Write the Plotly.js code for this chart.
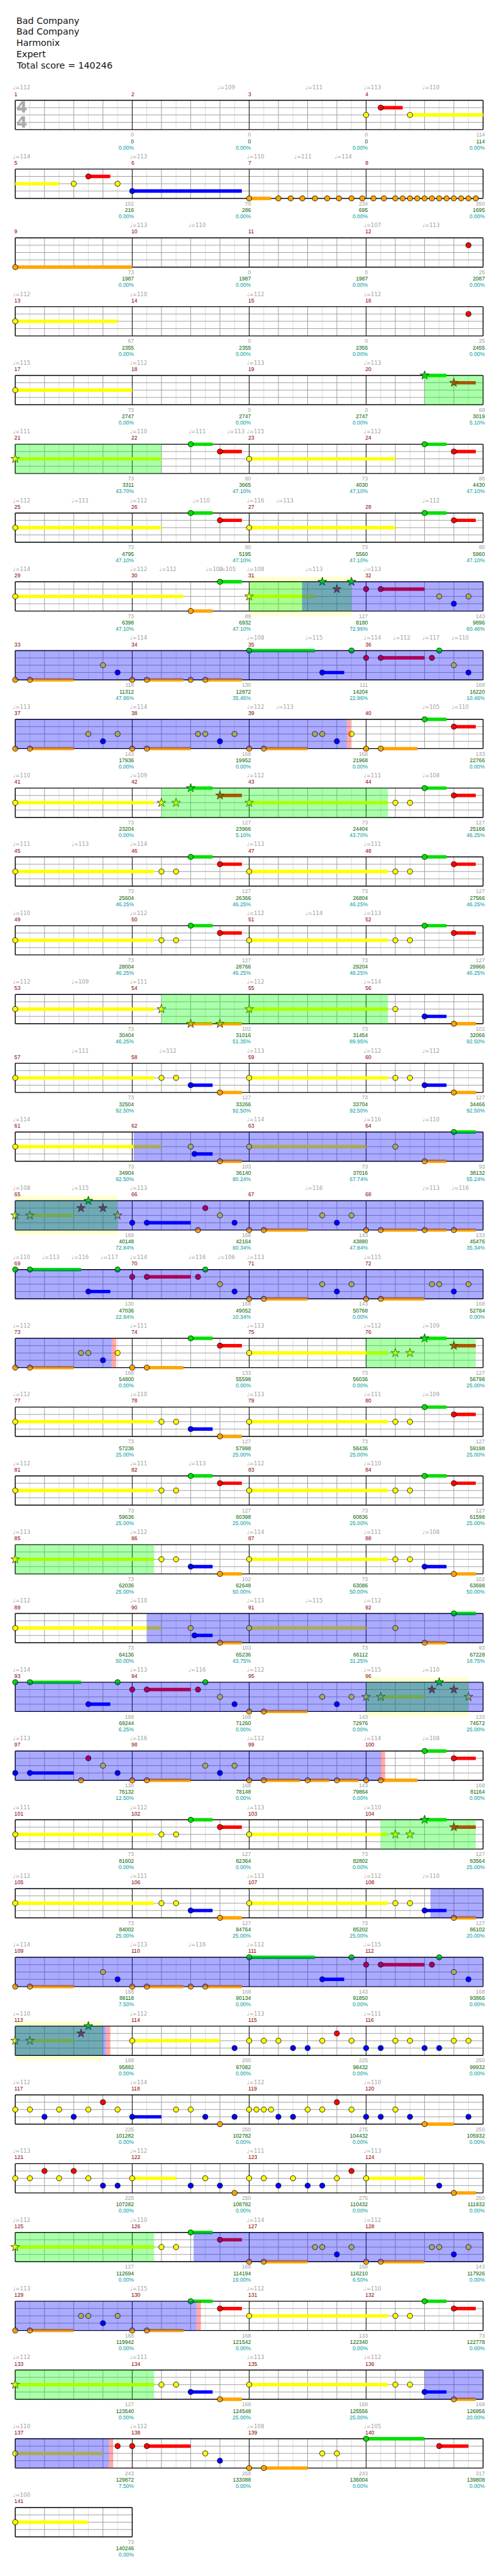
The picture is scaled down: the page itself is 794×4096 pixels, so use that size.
<!DOCTYPE html>
<html><head><meta charset="utf-8">
<script src="https://cdn.plot.ly/plotly-3.0.1.min.js"></script>
<style>html,body{margin:0;padding:0;background:#fff}#chart{width:794px;height:4096px}</style>
</head><body><div id="chart"></div>
<script>
// ---------------- DATA ----------------
const titleLines = ["Bad Company","Bad Company","Harmonix","Expert","Total score = 140246"];
const totalMeasures = 141;
const measuresPerRow = 4;
const beatsPerMeasure = 4;

// per-measure labels under the staff (measure 1..141)
const measureCounts = [0,0,0,114, 102,70,234,350, 73,0,0,25, 67,0,0,25, 73,0,0,68, 73,80,73,80,
  73,80,73,80, 73,89,127,143, 118,130,111,168, 143,168,168,133, 73,127,73,127, 73,127,73,127,
  73,127,73,127, 73,102,73,102, 73,127,73,127, 73,103,73,93, 168,168,143,133, 130,168,143,168,
  168,133,73,127, 73,127,73,127, 73,127,73,127, 73,102,73,102, 73,103,73,93, 168,168,143,133,
  130,168,143,168, 73,127,73,127, 73,127,73,127, 168,168,143,168, 168,200,225,250, 225,250,275,250,
  225,250,275,250, 127,168,168,143, 168,168,133,73, 127,168,168,168, 243,268,243,317, 73];
const measureScores = [0,0,0,114, 216,286,695,1695, 1987,1987,1987,2087, 2355,2355,2355,2455,
  2747,2747,2747,3019, 3311,3665,4030,4430, 4795,5195,5560,5960, 6398,6932,8180,9896,
  11312,12872,14204,16220, 17936,19952,21968,22766, 23204,23966,24404,25166, 25604,26366,26804,27566,
  28004,28766,29204,29966, 30404,31016,31454,32066, 32504,33266,33704,34466, 34904,36140,37016,38132,
  40148,42164,43880,45476, 47036,49052,50768,52784,
  54800,55598,56036,56798, 57236,57998,58436,59198, 59636,60398,60836,61598, 62036,62648,63086,63698,
  64136,65236,66112,67228, 69244,71260,72976,74572, 76132,78148,79864,81164, 81602,82364,82802,83564,
  84002,84764,85202,86102, 88118,90134,91850,93866, 95882,97082,98432,99932, 101282,102782,104432,105932,
  107282,108782,110432,111932, 112694,114194,116210,117926, 119942,121542,122340,122778,
  123540,124548,125556,126956, 129872,133088,136004,139808, 140246];
const measurePercents = ["0.00","0.00","0.00","0.00","0.00","0.00","0.00","0.00","0.00","0.00","0.00","0.00",
  "0.00","0.00","0.00","0.00","0.00","0.00","0.00","5.10","43.70","47.10","47.10","47.10",
  "47.10","47.10","47.10","47.10","47.10","47.10","72.96","60.46","47.96","35.46","22.96","10.46",
  "0.00","0.00","0.00","0.00","0.00","5.10","43.70","46.25","46.25","46.25","46.25","46.25",
  "46.25","46.25","46.25","46.25","46.25","51.35","89.95","92.50","92.50","92.50","92.50","92.50",
  "92.50","80.24","67.74","55.24","72.84","60.34","47.84","35.34","22.84","10.34","0.00","0.00",
  "0.00","0.00","0.00","25.00","25.00","25.00","25.00","25.00","25.00","25.00","25.00","25.00",
  "25.00","50.00","50.00","50.00","50.00","43.75","31.25","18.75","6.25","0.00","0.00","25.00",
  "12.50","0.00","0.00","0.00","0.00","0.00","0.00","25.00","25.00","25.00","25.00","20.00",
  "7.50","0.00","0.00","0.00","0.00","0.00","0.00","0.00","0.00","0.00","0.00","0.00",
  "0.00","0.00","0.00","0.00","0.00","19.00","6.50","0.00","0.00","0.00","0.00","0.00",
  "0.00","25.00","25.00","20.00","7.50","0.00","0.00","0.00","0.00"];

// tempo marks [measure, beat, bpm]
const tempoMarks = [[1,0,112],[2,3,109],[3,2,111],[4,0,113],[4,2,110],
  [5,0,114],[6,0,113],[7,0,110],[7,1.62,111],[7,3,114],
  [10,0,113],[10,2,110],[12,0,107],[12,2,113],
  [13,0,112],[14,0,110],[15,0,112],[16,0,112],
  [17,0,115],[18,0,112],[19,0,113],[20,0,113],
  [21,0,111],[22,0,110],[22,2,111],[22,3.33,113],[23,0,115],[24,0,112],
  [25,0,112],[25,2,111],[26,0,112],[26,2.14,110],[27,0,116],[27,1,113],[28,2,112],
  [29,0,114],[30,0,112],[30,1,112],[30,2.59,109],[30,3.03,105],[31,0,108],[31,2,113],[32,0,113],
  [34,0,114],[35,0,108],[35,2,115],[36,0,114],[36,1,112],[36,2,117],[36,3,110],
  [37,0,113],[38,0,114],[39,0,112],[39,1,113],[40,2,105],[40,3,110],
  [41,0,110],[42,0,109],[43,0,112],[44,0,111],[44,2,108],
  [45,0,111],[45,2,113],[46,0,114],[47,0,113],[48,0,111],
  [49,0,110],[50,0,112],[51,0,112],[51,2,114],[52,0,113],
  [53,0,112],[53,2,109],[54,0,111],[55,0,112],[56,0,114],
  [57,2,111],[58,1,112],[59,0,113],[60,0,112],[60,2,112],
  [61,0,114],[63,0,114],[64,0,116],[64,2,110],
  [65,0,108],[65,2,115],[66,0,113],[67,2,116],[68,2,113],[68,3,116],
  [69,0,110],[69,1,113],[69,2,116],[69,3,117],[70,0,114],[70,2,116],[70,3,106],[71,0,113],[72,0,115],
  [73,0,112],[74,0,111],[75,0,113],[76,0,112],[76,2,109],
  [77,0,112],[78,0,110],[79,0,113],[80,0,111],[80,2,109],
  [81,0,112],[82,0,111],[82,2,113],[83,0,112],[84,0,110],
  [85,0,113],[86,0,112],[87,0,114],[88,0,111],[88,2,108],
  [89,0,112],[90,0,110],[91,0,113],[91,2,115],[92,0,112],
  [93,0,114],[94,0,113],[94,2,116],[95,0,112],[96,0,115],[96,2,110],
  [97,0,113],[98,0,116],[99,0,112],[100,0,114],[100,2,108],
  [101,0,111],[102,0,112],[103,0,113],[104,0,110],
  [105,0,112],[106,0,111],[107,0,113],[108,0,112],[108,2,110],
  [109,0,114],[110,0,113],[110,2,116],[111,0,112],[112,0,115],
  [113,0,110],[114,0,112],[115,0,113],[116,0,111],
  [117,0,112],[118,0,114],[119,0,112],[120,0,110],
  [121,0,113],[122,0,112],[123,0,111],[124,0,113],
  [125,0,112],[126,0,110],[127,0,114],[128,0,112],
  [129,0,113],[130,0,115],[131,0,112],[132,0,110],
  [133,0,112],[134,0,111],[135,0,113],[136,0,112],
  [137,0,110],[138,0,112],[139,0,108],[140,0,105],[141,0,100]];

// notes [measure, beat, sustain length in beats (default 0), star 1/0 (default 0)]
const greenNotes = [[20,2,0.75,1],[22,2,0.75],[24,2,0.75],[26,2,0.75],[28,2,0.75],
  [30,3,0.75],[31,2.5,0,1],[31,3.5,0,1],[35,0,2.25],[35,3.5],[36,2.5],
  [40,2,0.75],[42,2,0.75,1],[44,2,0.75],[46,2,0.75],[48,2,0.75],[50,2,0.75],[52,2,0.75],
  [64,3,0.75],[65,2.5,0,1],[69,0],[69,0.5,1.75],[69,3.5],[70,2.5],
  [74,2,0.75],[76,2,0.75,1],[80,2,0.75],[82,2,0.75],[84,2,0.75],[92,3,0.75],
  [93,0],[93,0.5,1.75],[93,3.5],[94,2.5],[96,2.5,0,1],[100,2,0.75],[102,2,0.75],[104,2,0.75,1],
  [111,0,2.25],[111,3.5],[112,2.5],[113,2.5,0,1],[126,2,0.75],[130,2,0.75],[132,2,0.75],[140,0,2]];
const redNotes = [[4,0.5,0.75],[5,2.5,0.75],[12,3.5],[16,3.5],[20,3,0.75,1],
  [22,3,0.75],[24,3,0.75],[26,3,0.75],[28,3,0.75],
  [31,3,0,1],[32,0],[32,0.5,1.5],[36,0],[36,0.5,1.5],[36,2.25],
  [40,3,0.75],[42,3,0.75,1],[44,3,0.75],[46,3,0.75],[48,3,0.75],[50,3,0.75],[52,3,0.75],
  [65,2.25,0,1],[65,3,0,1],[66,2.5],[70,0],[70,0.5,1.5],[70,2.25],
  [74,3,0.75],[76,3,0.75,1],[80,3,0.75],[82,3,0.75],[84,3,0.75],[94,0],[94,0.5,1.5],[94,2.25],
  [96,2.25,0,1],[96,3,0,1],[97,2.5],[100,3,0.75],[102,3,0.75],[104,3,0.75,1],
  [112,0],[112,0.5,1.5],[112,2.25],[113,2.25,0,1],[115,3],[117,3],[119,3],[121,1],[121,2],[123,3.5],
  [126,3,0.75],[130,3,0.75],[132,3,0.75],[137,3.5],[138,0],[138,0.5,1.5],[140,2.5,1]];
const yellowNotes = [[4,0],[4,1.5,4],[5,2],[5,3.5],[13,0,3.5],[17,0,4],
  [21,0,5,1],[23,0,5],[25,0,5],[27,0,5],[29,0,5.75],[31,0,2.25,1],[32,2.5],[32,3.5],
  [33,3],[36,3],[37,2.5],[37,3.5],[38,2.25],[38,2.5],[38,3.5],[39,2.25],[39,2.5],[39,3.5],
  [41,0,4.75],[42,1,0,1],[42,1.5,0,1],[43,0,4.75,1],[44,1],[44,1.5],
  [45,0,4.75],[46,1],[46,1.5],[47,0,4.75],[48,1],[48,1.5],
  [49,0,4.75],[50,1],[50,1.5],[51,0,4.75],[52,1],[52,1.5],
  [53,0,4.75],[54,1,0,1],[55,0,4.75,1],[56,1],
  [57,0,4.75],[58,1],[58,1.5],[59,0,4.75],[60,1],[60,1.5],
  [61,0,5],[62,2],[63,0,4],[64,1],
  [65,0,0,1],[65,0.5,1.5,1],[65,3.5,0,1],[66,3],[67,2.5],[67,3.5],
  [70,3],[71,2.5],[71,3.5],[72,2.25],[72,2.5],[72,3.5],
  [73,2.25],[73,2.5],[73,3.5],[75,0,4.75],[76,1,0,1],[76,1.5,0,1],
  [77,0,4.75],[78,1],[78,1.5],[79,0,4.75],[80,1],[80,1.5],
  [81,0,4.75],[82,1],[82,1.5],[83,0,4.75],[84,1],[84,1.5],
  [85,0,4.75,1],[86,1],[86,1.5],[87,0,4.75],[88,1],[88,1.5],
  [89,0,5],[90,2],[91,0,4],[92,1],
  [94,3],[95,2.5],[95,3.5],[96,0,0,1],[96,0.5,1.5,1],[96,3.5,0,1],[97,3],[98,2.5],[98,3.5],
  [101,0,4.75],[102,1],[102,1.5],[103,0,4.75],[104,1,0,1],[104,1.5,0,1],
  [105,0,4.75],[106,1],[106,1.5],[107,0,4.75],[108,1],[108,1.5],[109,3],[112,3],
  [113,0,0,1],[113,0.5,1.5,1],[114,0,3],[115,0],[115,0.5],[115,1],[115,2.5],[115,3.5],
  [116,1],[116,1.5],[116,3],[116,3.5],[117,0],[117,0.5],[117,1.5],[117,2.5],[117,3.5],[118,1.5],[118,2],
  [119,0],[119,0.25],[119,0.5],[119,0.75],[119,2],[119,2.5],[119,3.5],[120,1],
  [121,0],[121,0.5],[121,1.5],[121,2.5],[122,0,1.5],[122,2.5],[123,0],[123,0.5],[123,1.5],[123,3],[124,0,2],
  [125,0,4.75,1],[126,1],[126,1.5],[127,2.25],[127,2.5],[127,3.5],[128,2.25],[128,2.5],[128,3.5],
  [129,2.25],[129,2.5],[129,3.5],[131,0,4.75],[132,1],[132,1.5],
  [133,0,4.75,1],[134,1],[134,1.5],[135,0,4.75],[136,1],[136,1.5],
  [137,0,3],[138,2.5],[139,2.5],[139,3],[141,0,2.5]];
const blueNotes = [[6,0,3.75],[32,3],[33,3.5],[35,2.5,0.75],[36,3.5],
  [37,3],[38,3],[39,3],[56,2,0.75],[58,2,0.75],[60,2,0.75],[62,2.13,0.62],
  [66,0],[66,0.5,1.5],[66,3.5],[67,3],[69,2.5,0.75],[70,3.5],[71,3],[72,3],
  [73,3],[78,2,0.75],[86,2,0.75],[88,2,0.75],[90,2.13,0.62],[93,2.5,0.75],[94,3.5],[95,3],
  [97,0],[97,0.5,1.5],[97,3.5],[98,3],[106,2,0.75],[108,2,0.75],[109,3.5],[111,2.5,0.75],[112,3.5],
  [114,3.5],[115,1.5],[115,2],[116,0],[116,0.5],[116,2],[116,2.5],[117,1],[117,2],[118,0,1],[118,2.5],[118,3.5],
  [119,1],[119,1.5],[120,0],[120,0.5],[120,1.5],[120,3.5],[121,3],[121,3.5],[122,2],[122,3],
  [123,1],[123,2],[123,2.5],[124,2.5],[127,3],[128,3],[129,3],[134,2,0.75],[136,2,0.75],[138,3]];
const orangeNotes = [[7,0,0.75],[7,1],[7,1.42],[7,1.82],[7,2.25],[7,2.67],[7,3.07],[7,3.5],[7,3.87],
  [8,0.25],[8,0.61],[8,1],[8,1.25],[8,1.5],[8,1.75],[8,2],[8,2.25],
  [8,2.5],[8,2.75],[8,3],[8,3.25],[8,3.5],[8,3.75],
  [9,0,4],[30,2,0.75],
  [33,0],[33,0.5,1.5],[34,0],[34,0.5,1.25],[34,2],[34,2.5,1.25],
  [37,0],[37,0.5,1.5],[38,0],[38,0.5,1.5],[39,0],[39,0.5,1.5],[40,0],[40,0.5,1.25],
  [54,2,0.75,1],[54,3,0.75,1],[56,3,0.75],[58,3,0.75],[60,3,0.75],[62,3,0.75],[64,2,0.75],
  [66,2.25],[67,0],[67,0.5,1.5],[68,0],[68,0.5,1.25],[68,2,0.75],[68,3,0.75],
  [71,0],[71,0.5,1.5],[72,0],[72,0.5,1.5],
  [73,0],[73,0.5,1.5],[74,0],[74,0.5,1.25],[78,3,0.75],[86,3,0.75],[88,3,0.75],[90,3,0.75],[92,2,0.75],
  [95,0],[95,0.5,1.5],[97,2.25],[98,0],[98,0.5,1.5],[99,0],[99,0.5,1.25],[99,2,0.75],[99,3,0.75],
  [100,0],[100,0.5,1.25],[106,3,0.75],[108,3,0.75],[109,0],[109,0.5,1.5],[110,0],[110,0.5,1.25],
  [110,2],[110,2.5,1.25],[118,3],[120,2,1],[122,3.5],[124,3,0.75],
  [127,0],[127,0.5,1.5],[128,0],[128,0.5,1.5],[129,0],[129,0.5,1.5],[130,0],[130,0.5,1.25],
  [134,3,0.75],[136,3,0.75],[139,0],[139,0.5,1.5]];

// spans [startMeasure, startBeat, endMeasure, endBeat]
const phraseSpans = [[20,2,22,1],[31,0,31,3.5],[42,1,44,0.75],[54,1,56,0.75],[65,0,65,3.5],
  [76,0,76,3.75],[85,0,86,0.75],[96,0,96,3.5],[104,0.5,104,3.75],[113,0,113,3],[125,0,126,0.75],[133,0,134,0.75]];
const activationSpans = [[31,1.81,39,3.34],[62,0.05,73,3.3],[90,0.5,100,0.5],[108,2.2,113,3.1],
  [126,2.1,130,2.2],[136,2,137,3.2]];
const bandSpans = [[31,0,31,3.5],[65,0,65,3.5],[96,0,96,3.5],[113,0,113,3]];
const endSpans = [[39,3.34,39,3.49],[73,3.3,73,3.45],[100,0.5,100,0.65],[113,3.1,113,3.25],
  [130,2.2,130,2.35],[137,3.2,137,3.35]];

// ---------------- DRAWING ----------------
const RS = 141/15;            // row step in lane units
const BPR = measuresPerRow*beatsPerMeasure;
const nRows = Math.ceil(totalMeasures/measuresPerRow);
const toG = (m,b) => (m-1)*beatsPerMeasure + b;

function splitSpan(g0, g1, cb){
  let r = Math.floor(g0/BPR);
  while (r*BPR < g1 - 1e-9){
    const a = Math.max(g0, r*BPR), e = Math.min(g1, (r+1)*BPR);
    if (e > a) cb(r, a - r*BPR, e - r*BPR);
    r++;
  }
}

const traces = [];
function lineTrace(segs, color, width){
  const x=[], y=[];
  segs.forEach(s=>{x.push(s[0],s[2],null); y.push(s[1],s[3],null);});
  traces.push({type:'scatter',mode:'lines',x,y,line:{color,width},hoverinfo:'skip'});
}
const half=[], beat=[], lane=[], meas=[], border=[];
for (let r=0;r<nRows;r++){
  const nm = Math.min(measuresPerRow, totalMeasures - r*measuresPerRow);
  const W = nm*beatsPerMeasure, top=r*RS, bot=r*RS+4;
  for (let h=0.5; h<W; h+=1) half.push([h,top,h,bot]);
  for (let b=1; b<W; b++) { if (b%4) beat.push([b,top,b,bot]); else meas.push([b,top,b,bot]); }
  for (let k=1;k<=3;k++) lane.push([0,top+k,W,top+k]);
  border.push([0,top,W,top],[W,top,W,bot],[W,bot,0,bot],[0,bot,0,top]);
}
lineTrace(half,'#dddddd',1);
lineTrace(beat,'#a0a0a0',1);
lineTrace(lane,'#a0a0a0',1);
lineTrace(meas,'#000000',1);
lineTrace(border,'#000000',1.4);

const laneDefs = [
  {notes:greenNotes,  color:'#00e000', k:0},
  {notes:redNotes,    color:'#ff0000', k:1},
  {notes:yellowNotes, color:'#ffff00', k:2},
  {notes:blueNotes,   color:'#0000ff', k:3},
  {notes:orangeNotes, color:'#ffa500', k:4}];
laneDefs.forEach(L=>{
  const segs=[];
  L.notes.forEach(n=>{ const len=n[2]||0; if(len>0){ const g=toG(n[0],n[1]);
    splitSpan(g, g+len, (r,a,e)=>segs.push([a,r*RS+L.k,e,r*RS+L.k])); }});
  lineTrace(segs, L.color, 5.4);
});
laneDefs.forEach(L=>{
  [0,1].forEach(star=>{
    const x=[],y=[];
    L.notes.filter(n=>(n[3]||0)===star).forEach(n=>{
      const g=toG(n[0],n[1]); const r=Math.floor(g/BPR);
      x.push(g-r*BPR); y.push(r*RS+L.k);});
    traces.push({type:'scatter',mode:'markers',x,y,hoverinfo:'skip',
      marker:{symbol: star?'star':'circle', size: star?10.5:8.2, color:L.color,
              line:{color:'#000',width:star?0.7:0.8}}});
  });
});

function textTrace(x,y,text,pos,color,size,family){
  traces.push({type:'scatter',mode:'text',x,y,text,textposition:pos,hoverinfo:'skip',
    textfont:{color,size,family:family||'Liberation Sans, Arial, sans-serif'}, cliponaxis:false});
}
const mnX=[],mnY=[],mnT=[], cX=[],cY=[],cT=[], sY=[],sT=[], pY=[],pT=[];
for (let m=1;m<=totalMeasures;m++){
  const g=toG(m,0), r=Math.floor(g/BPR), x0=g-r*BPR;
  mnX.push(x0-0.03); mnY.push(r*RS-0.78); mnT.push(String(m));
  const i=m-1;
  cX.push(x0+4+0.06); cY.push(r*RS+4.78); cT.push(i<measureCounts.length?String(measureCounts[i]):'');
  sY.push(r*RS+5.67); sT.push(i<measureScores.length?String(measureScores[i]):'');
  pY.push(r*RS+6.53); pT.push(i<measurePercents.length?measurePercents[i]+'%':'');
}
textTrace(mnX,mnY,mnT,'middle right','#8b0000',8.6);
textTrace(cX,cY,cT,'middle left','#a0a0a0',8.6);
textTrace(cX,sY,sT,'middle left','#006400',8.6);
textTrace(cX,pY,pT,'middle left','#009c9c',8.6);
const tX=[],tY=[],tT=[];
tempoMarks.forEach(t=>{ const g=toG(t[0],t[1]), r=Math.floor(g/BPR);
  tX.push(g-r*BPR-0.08); tY.push(r*RS-1.65); tT.push('\u2669='+t[2]); });
textTrace(tX,tY,tT,'middle right','#a0a0a0',8.6,'DejaVu Sans, sans-serif');

const shapes=[];
bandSpans.forEach(s=>splitSpan(toG(s[0],s[1]),toG(s[2],s[3]),(r,a,e)=>shapes.push(
  {type:'rect',xref:'x',yref:'y',x0:a,x1:e,y0:r*RS-0.7,y1:r*RS+4.7,fillcolor:'#ffffd2',line:{width:0},layer:'below'})));
phraseSpans.forEach(s=>splitSpan(toG(s[0],s[1]),toG(s[2],s[3]),(r,a,e)=>shapes.push(
  {type:'rect',xref:'x',yref:'y',x0:a,x1:e,y0:r*RS,y1:r*RS+4,fillcolor:'rgba(0,255,0,0.333)',line:{width:0},layer:'above'})));
activationSpans.forEach(s=>splitSpan(toG(s[0],s[1]),toG(s[2],s[3]),(r,a,e)=>shapes.push(
  {type:'rect',xref:'x',yref:'y',x0:a,x1:e,y0:r*RS,y1:r*RS+4,fillcolor:'rgba(0,0,255,0.333)',line:{width:0},layer:'above'})));
endSpans.forEach(s=>splitSpan(toG(s[0],s[1]),toG(s[2],s[3]),(r,a,e)=>shapes.push(
  {type:'rect',xref:'x',yref:'y',x0:a,x1:e,y0:r*RS,y1:r*RS+4,fillcolor:'rgba(255,0,0,0.333)',line:{width:0},layer:'above'})));

const annotations = titleLines.map((t,i)=>({xref:'paper',yref:'paper',x:31/1024,y:1-(42+23*i)/5281,
  xanchor:'left',yanchor:'middle',showarrow:false,text:t,font:{family:'DejaVu Sans, sans-serif',size:14.3,color:'#111'}}));
['4','4'].forEach((t,i)=>annotations.push({xref:'x',yref:'y',x:0.23,y:0.98+2*i,xanchor:'center',yanchor:'middle',
  showarrow:false,text:'<b>'+t+'</b>',font:{family:'DejaVu Sans, sans-serif',size:25,color:'#aaaaaa'}}));

const layout = {width:794,height:4096,margin:{l:0,r:0,t:0,b:0,pad:0},
  paper_bgcolor:'#fff',plot_bgcolor:'#fff',showlegend:false,hovermode:false,
  xaxis:{range:[-31.3/60,(1024-31.3)/60],visible:false,fixedrange:true},
  yaxis:{range:[(5281-205.7)/15,-205.7/15],visible:false,fixedrange:true},
  shapes, annotations};
Plotly.newPlot('chart',traces,layout,{staticPlot:true,displayModeBar:false});
</script></body></html>
